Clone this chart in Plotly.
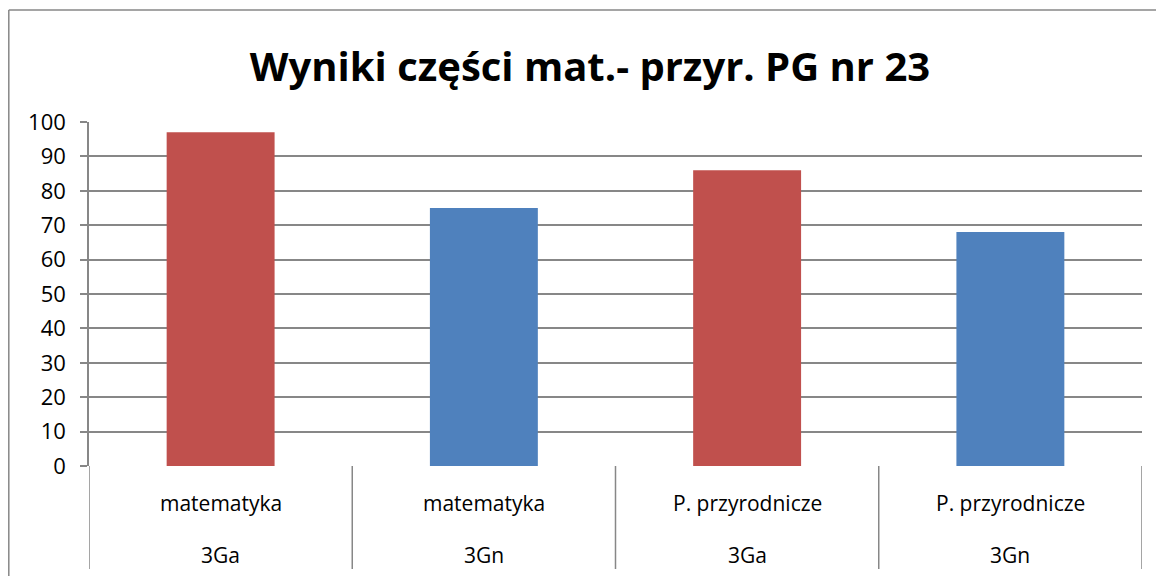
import plotly.graph_objects as go

subjects = ["matematyka", "matematyka", "P. przyrodnicze", "P. przyrodnicze"]
classes = ["3Ga", "3Gn", "3Ga", "3Gn"]
values = [97, 75, 86, 68]
class_colors = {"3Ga": "#C0504D", "3Gn": "#4F81BD"}
y_ticks = list(range(0, 101, 10))
title_text = "Wyniki części mat.- przyr. PG nr 23"

# page body has an 8px margin; work in reference pixel coordinates
OFF = 8
W, H = 1164 - OFF, 576 - OFF
left_px, right_px, top_px, bottom_px = 89, 1142, 122, 466   # reference plot area
L, R, T, B = left_px - OFF, 1164 - right_px, top_px - OFF, 576 - bottom_px
pw, ph = W - L - R, H - T - B

def px_x(px):
    return (px - OFF - L) / pw

def px_y(py):
    return (H - B - (py - OFF)) / ph

xs = list(range(len(values)))
fig = go.Figure()
fig.add_trace(go.Bar(
    x=xs, y=values, width=0.41,
    marker=dict(color=[class_colors[c] for c in classes], line=dict(width=0)),
    hoverinfo="skip",
))

font = "Open Sans"
shapes = []
annotations = []
grid_col = "#878787"
for i in range(len(values) + 1):
    shapes.append(dict(type="line", xref="x", yref="paper",
                       x0=i - 0.5, x1=i - 0.5, y0=0, y1=px_y(569),
                       line=dict(color=grid_col, width=1.5)))
for i, (s, c) in enumerate(zip(subjects, classes)):
    annotations.append(dict(x=i, y=px_y(503), xref="x", yref="paper", text=s, yanchor="middle",
                            showarrow=False, font=dict(family=font, size=21, color="#000")))
    annotations.append(dict(x=i, y=px_y(555), xref="x", yref="paper", text=c, yanchor="middle",
                            showarrow=False, font=dict(family=font, size=21, color="#000")))
# outer chart border (top, left)
shapes.append(dict(type="line", xref="paper", yref="paper",
                   x0=px_x(8.8), x1=px_x(1163), y0=px_y(10), y1=px_y(10),
                   line=dict(color=grid_col, width=1.5)))
shapes.append(dict(type="line", xref="paper", yref="paper",
                   x0=px_x(8.8), x1=px_x(8.8), y0=px_y(10), y1=px_y(580),
                   line=dict(color=grid_col, width=1.5)))

fig.update_layout(
    width=W, height=H,
    margin=dict(l=L, r=R, t=T, b=B, autoexpand=False),
    paper_bgcolor="white", plot_bgcolor="white",
    showlegend=False,
    title=dict(text="<b>" + title_text + "</b>", x=px_x(590), xanchor="center", xref="paper",
               y=1 - (67 - OFF) / H, yanchor="middle",
               font=dict(family=font, size=40, color="#000")),
    xaxis=dict(range=[-0.5, len(values) - 0.5], showticklabels=False, showgrid=False,
               zeroline=False, showline=False, ticks=""),
    yaxis=dict(range=[0, 100], tickvals=y_ticks, showgrid=True, gridcolor=grid_col, gridwidth=1.5,
               zeroline=False, showline=True, linecolor=grid_col, linewidth=1.5,
               ticks="outside", ticklen=7, tickcolor=grid_col, tickwidth=1.5,
               tickfont=dict(family=font, size=22, color="#000"), ticklabelstandoff=10),
    shapes=shapes, annotations=annotations,
)
fig.write_html("out.html")
